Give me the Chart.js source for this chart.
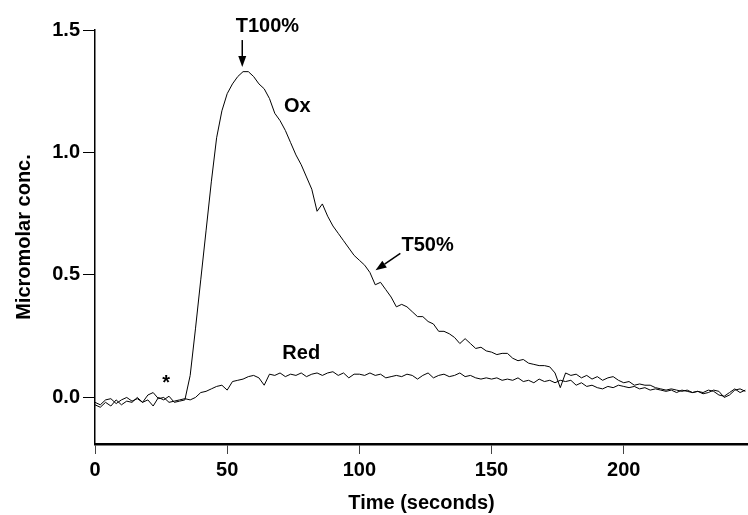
<!DOCTYPE html>
<html>
<head>
<meta charset="utf-8">
<script src="https://cdn.jsdelivr.net/npm/chart.js"></script>
<style>
html, body { margin: 0; padding: 0; background: #fff; }
</style>
</head>
<body>
<canvas id="chart" width="748" height="515"></canvas>
<script>
// time axis, seconds
var seconds = [0,2,4,6,8,10,12,14,16,18,20,22,24,26,28,30,32,34,36,38,
    40,42,44,46,48,50,52,54,56,58,60,62,64,66,68,70,72,74,76,78,
    80,82,84,86,88,90,92,94,96,98,100,102,104,106,108,110,112,114,116,118,
    120,122,124,126,128,130,132,134,136,138,140,142,144,146,148,150,152,154,156,158,
    160,162,164,166,168,170,172,174,176,178,180,182,184,186,188,190,192,194,196,198,
    200,202,204,206,208,210,212,214,216,218,220,222,224,226,228,230,232,234,236,238,
    240,242,244,246];

// Ox trace (micromolar)
var oxValues = [-0.03,-0.04,-0.02,-0.035,-0.01,-0.03,-0.015,-0.02,0.0,-0.02,
    -0.01,-0.035,0.0,-0.01,0.005,-0.02,-0.015,-0.01,0.09,0.28,
    0.48,0.68,0.88,1.06,1.17,1.24,1.28,1.31,1.33,1.33,
    1.31,1.28,1.26,1.22,1.16,1.13,1.09,1.04,0.99,0.95,
    0.90,0.85,0.76,0.79,0.74,0.70,0.67,0.64,0.61,0.58,
    0.56,0.54,0.51,0.46,0.47,0.44,0.41,0.37,0.38,0.37,
    0.35,0.33,0.33,0.31,0.30,0.27,0.27,0.26,0.245,0.22,
    0.24,0.22,0.20,0.205,0.19,0.185,0.175,0.18,0.18,0.16,
    0.15,0.155,0.14,0.135,0.13,0.13,0.125,0.10,0.04,0.10,
    0.09,0.095,0.08,0.09,0.075,0.085,0.07,0.08,0.085,0.07,
    0.06,0.065,0.05,0.055,0.05,0.05,0.04,0.035,0.03,0.035,
    0.03,0.025,0.03,0.02,0.025,0.02,0.03,0.025,0.01,0.005,
    0.02,0.035,0.02,0.03];

// Red trace (micromolar)
var redValues = [-0.02,-0.03,-0.01,-0.005,-0.025,-0.01,0.0,-0.015,-0.005,-0.02,
    0.01,0.02,-0.005,0.0,-0.02,-0.015,-0.01,-0.005,-0.01,0.0,
    0.02,0.025,0.035,0.045,0.05,0.03,0.065,0.07,0.075,0.085,
    0.09,0.08,0.05,0.095,0.09,0.1,0.085,0.095,0.09,0.1,
    0.085,0.095,0.1,0.09,0.1,0.105,0.09,0.1,0.08,0.095,
    0.095,0.09,0.1,0.09,0.095,0.08,0.085,0.09,0.085,0.095,
    0.09,0.075,0.09,0.1,0.08,0.09,0.095,0.085,0.09,0.1,
    0.085,0.09,0.08,0.075,0.08,0.075,0.08,0.07,0.075,0.07,
    0.08,0.065,0.07,0.06,0.075,0.065,0.07,0.06,0.07,0.065,
    0.07,0.05,0.06,0.045,0.05,0.04,0.035,0.045,0.04,0.05,
    0.045,0.04,0.045,0.035,0.04,0.03,0.035,0.03,0.025,0.03,
    0.02,0.03,0.025,0.02,0.025,0.015,0.02,0.03,0.025,0.0,
    0.01,0.03,0.035,0.025];

var xTicks = [0, 50, 100, 150, 200];
var yTicks = [0, 0.5, 1.0, 1.5];

// labels written on the plot, in data units
var notes = [
    { text: 'T100%', t: 65.2, v: 1.516 },
    { text: 'Ox', t: 76.5, v: 1.189 },
    { text: 'T50%', t: 125.8, v: 0.621 },
    { text: 'Red', t: 78.0, v: 0.18 },
    { text: '*', t: 26.9, v: 0.055 }
];
var arrows = [
    { from: [55.7, 1.459], to: [55.7, 1.349] },
    { from: [115.5, 0.588], to: [106.1, 0.519] }
];

var fontFamily = '"Liberation Sans", Arial, Helvetica, sans-serif';
Chart.defaults.font.family = fontFamily;
Chart.defaults.font.weight = 'bold';
Chart.defaults.font.size = 20;
Chart.defaults.color = '#000';

function toPoints(values) {
    return values.map(function (v, i) {
        return { x: seconds[i], y: v };
    });
}

// Dibuja los textos y flechas sobre la grafica
var notesPlugin = {
    id: 'notes',
    afterDraw: function (chart) {
        var ctx = chart.ctx;
        var xs = chart.scales.x, ys = chart.scales.y;
        ctx.save();
        ctx.fillStyle = '#000';
        ctx.strokeStyle = '#000';
        ctx.font = 'bold 20px ' + fontFamily;
        ctx.textAlign = 'center';
        ctx.textBaseline = 'middle';
        notes.forEach(function (n) {
            ctx.fillText(n.text, xs.getPixelForValue(n.t), ys.getPixelForValue(n.v));
        });
        arrows.forEach(function (a) {
            var x1 = xs.getPixelForValue(a.from[0]), y1 = ys.getPixelForValue(a.from[1]);
            var x2 = xs.getPixelForValue(a.to[0]), y2 = ys.getPixelForValue(a.to[1]);
            var ang = Math.atan2(y2 - y1, x2 - x1);
            var len = 11, half = 4;
            ctx.lineWidth = 1.5;
            ctx.beginPath();
            ctx.moveTo(x1, y1);
            ctx.lineTo(x2 - Math.cos(ang) * len, y2 - Math.sin(ang) * len);
            ctx.stroke();
            ctx.beginPath();
            ctx.moveTo(x2, y2);
            ctx.lineTo(x2 - Math.cos(ang) * len - Math.sin(ang) * half, y2 - Math.sin(ang) * len + Math.cos(ang) * half);
            ctx.lineTo(x2 - Math.cos(ang) * len + Math.sin(ang) * half, y2 - Math.sin(ang) * len - Math.cos(ang) * half);
            ctx.closePath();
            ctx.fill();
        });
        ctx.restore();
    }
};

new Chart(document.getElementById('chart'), {
    type: 'line',
    data: {
        datasets: [
            {
                label: 'Ox',
                data: toPoints(oxValues),
                borderColor: '#000',
                borderWidth: 1,
                pointRadius: 0,
                tension: 0,
                fill: false
            },
            {
                label: 'Red',
                data: toPoints(redValues),
                borderColor: '#000',
                borderWidth: 1,
                pointRadius: 0,
                tension: 0,
                fill: false
            }
        ]
    },
    options: {
        responsive: false,
        animation: false,
        layout: { padding: { top: 30, right: 0, left: 0, bottom: 0 } },
        plugins: {
            legend: { display: false },
            tooltip: { enabled: false }
        },
        scales: {
            x: {
                type: 'linear',
                min: 0,
                max: 247,
                afterBuildTicks: function (scale) {
                    scale.ticks = xTicks.map(function (v) { return { value: v }; });
                },
                afterFit: function (scale) { scale.height = 71; },
                grid: { drawOnChartArea: false, drawTicks: true, tickLength: 10, color: '#444', lineWidth: 1 },
                border: { display: true, color: '#000', width: 2.5 },
                ticks: { padding: 4, maxRotation: 0, callback: function (v) { return v; } },
                title: { display: true, text: 'Time (seconds)', padding: { top: 0, bottom: 0 } }
            },
            y: {
                min: -0.19,
                max: 1.5,
                afterBuildTicks: function (scale) {
                    scale.ticks = yTicks.map(function (v) { return { value: v }; });
                },
                afterFit: function (scale) { scale.width = 95; },
                grid: { drawOnChartArea: false, drawTicks: true, tickLength: 12, color: '#000', lineWidth: 1 },
                border: { display: true, color: '#000', width: 1.5 },
                ticks: { padding: 3, callback: function (v) { return Number(v).toFixed(1); } },
                title: { display: true, text: 'Micromolar conc.', padding: { top: 12, bottom: 0 } }
            }
        }
    },
    plugins: [notesPlugin]
});
</script>
</body>
</html>
